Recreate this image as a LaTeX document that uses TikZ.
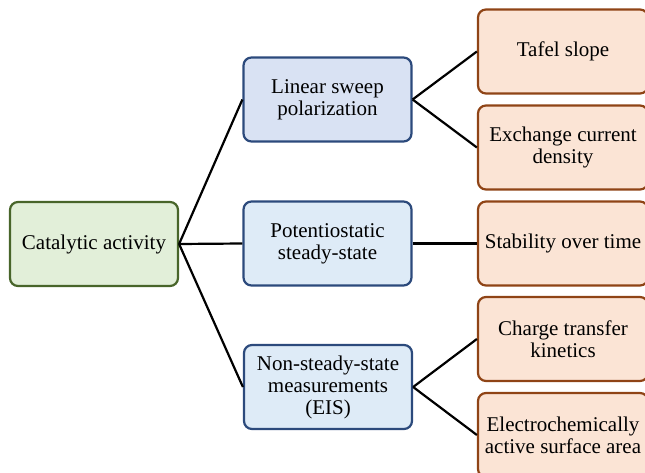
\documentclass[tikz,border=0pt]{standalone}
\usepackage{fontspec}
\setmainfont{Liberation Serif}
\definecolor{gfill}{HTML}{E2EFD9}
\definecolor{gdraw}{HTML}{48652A}
\definecolor{bfillA}{HTML}{D9E2F3}
\definecolor{bfillB}{HTML}{DEEBF7}
\definecolor{bdraw}{HTML}{2C4A7C}
\definecolor{ofill}{HTML}{FBE4D5}
\definecolor{odraw}{HTML}{8F4416}
\begin{document}
\begin{tikzpicture}[x=1pt,y=-1pt,
  boxbase/.style={rectangle, rounded corners=8pt, line width=2.2pt,
    minimum width=168pt, minimum height=84pt, align=center, inner sep=2pt,
    font=\fontsize{21}{22}\selectfont},
  greenbox/.style={boxbase, fill=gfill, draw=gdraw},
  bluebox/.style={boxbase, fill=bfillB, draw=bdraw},
  orangebox/.style={boxbase, fill=ofill, draw=odraw, minimum width=170pt},
  link/.style={line width=2.2pt, black}]
\useasboundingbox (0,0) rectangle (645,473);
\clip (0,0) rectangle (645,473);
\node[greenbox] (cat) at (94,244) {Catalytic activity};
\node[bluebox, fill=bfillA] (lin) at (327.5,99.5) {Linear sweep\\polarization};
\node[bluebox] (pot) at (327.5,243.5) {Potentiostatic\\steady-state};
\node[bluebox] (non) at (328,387) {Non-steady-state\\measurements\\(EIS)};
\node[orangebox] (taf) at (563,51.5) {Tafel slope};
\node[orangebox] (exc) at (563,147.5) {Exchange current\\density};
\node[orangebox] (sta) at (563,243.5) {Stability over time};
\node[orangebox] (cha) at (563,339) {Charge transfer\\kinetics};
\node[orangebox] (ele) at (563,435) {Electrochemically\\active surface area};
\draw[link] (cat.east) -- (lin.west);
\draw[link] (cat.east) -- (pot.west);
\draw[link] (cat.east) -- (non.west);
\draw[link] (lin.east) -- (taf.west);
\draw[link] (lin.east) -- (exc.west);
\draw[link] (pot.east) -- (sta.west);
\draw[link] (non.east) -- (cha.west);
\draw[link] (non.east) -- (ele.west);
\end{tikzpicture}
\end{document}
